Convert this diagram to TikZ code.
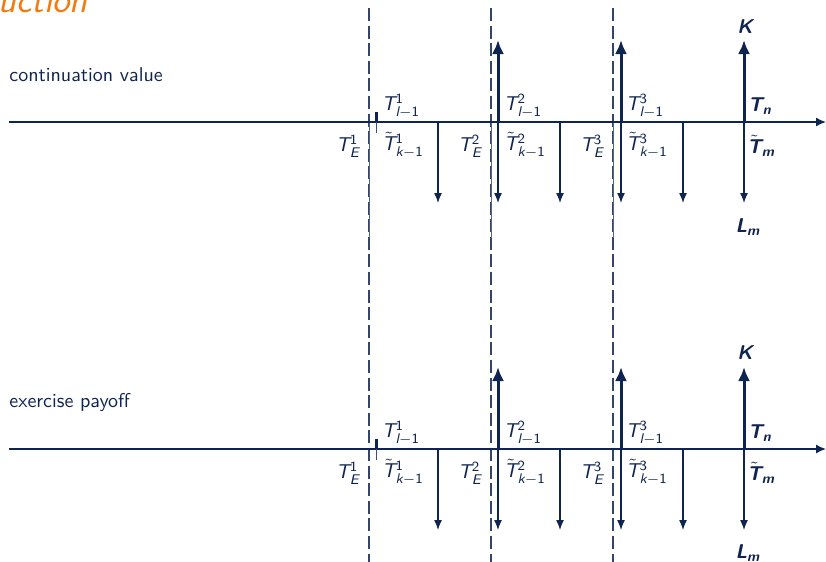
\documentclass[tikz,border=0pt]{standalone}
\usetikzlibrary{arrows.meta}
\DeclareMathAlphabet{\msl}{TU}{lmss}{m}{sl}
\DeclareMathAlphabet{\mbsl}{TU}{lmss}{bx}{sl}
\DeclareMathAlphabet{\msf}{TU}{lmss}{m}{n}
\definecolor{navy}{RGB}{16,36,80}
\definecolor{titleorange}{RGB}{240,125,20}
\begin{document}
\begin{tikzpicture}[x=0.5pt,y=-0.5pt,
  axisarrow/.style={draw=navy, line width=0.75pt, -{Latex[length=5pt,width=4.5pt]}},
  thinarrow/.style={draw=navy, line width=0.65pt, -{Latex[length=5pt,width=4pt]}},
  thickarrow/.style={draw=navy, line width=1.5pt, -{Latex[length=7pt,width=6pt]}},
  tickthick/.style={draw=navy, line width=1.5pt},
  tickthin/.style={draw=navy!80!white, line width=0.5pt},
  dashline/.style={draw=navy!85!white, line width=0.6pt, dash pattern=on 6.5pt off 2.3pt},
  solidline/.style={draw=navy!70!white, line width=0.5pt},
  lbl/.style={inner sep=0pt, text=navy, font=\fontsize{10}{12}\selectfont},
  txt/.style={inner sep=0pt, text=navy, font=\sffamily\fontsize{10}{12}\selectfont, anchor=base west}]
\useasboundingbox (0,0) rectangle (826,562);

\node[anchor=base west, inner sep=0pt, text=titleorange,
      font=\sffamily\slshape\fontsize{18.5}{22}\selectfont] (title) at (-2,12) {uction};

\coordinate (dtop1) at (369,8);
\coordinate (dbot1) at (369,562);
\coordinate (dtop2) at (491,8);
\coordinate (dbot2) at (491,562);
\coordinate (dtop3) at (613,8);
\coordinate (dbot3) at (613,562);
\draw[dashline] (dtop1) -- (dbot1);
\draw[dashline] (dtop2) -- (dbot2);
\draw[dashline] (dtop3) -- (dbot3);
\coordinate (stop1) at (369,122);
\coordinate (sbot1) at (369,238);
\coordinate (stop2) at (491,122);
\coordinate (sbot2) at (491,238);
\coordinate (stop3) at (613,122);
\coordinate (sbot3) at (613,238);
\draw[solidline] (stop1) -- (sbot1);
\draw[solidline] (stop2) -- (sbot2);
\draw[solidline] (stop3) -- (sbot3);

\node[txt] (cvtext) at (9,82) {continuation value};
\node[txt] (eptext) at (9,407) {exercise payoff};

% ---------- upper panel ----------
\coordinate (ca0) at (9,122);
\coordinate (ca1) at (826,122);
\draw[axisarrow] (ca0) -- (ca1);
\coordinate (ct0) at (376,122);
\coordinate (ctu) at (376,112);
\coordinate (ctd) at (376,133);
\draw[tickthick] (ct0) -- (ctu);
\draw[tickthin] (ct0) -- (ctd);
\coordinate (cd1s) at (438,122);
\coordinate (cd1e) at (438,203);
\coordinate (cd2s) at (498,122);
\coordinate (cd2e) at (498,203);
\coordinate (cd3s) at (560,122);
\coordinate (cd3e) at (560,203);
\coordinate (cd4s) at (621,122);
\coordinate (cd4e) at (621,203);
\coordinate (cd5s) at (683,122);
\coordinate (cd5e) at (683,203);
\coordinate (cd6s) at (744,122);
\coordinate (cd6e) at (744,203);
\draw[thinarrow] (cd1s) -- (cd1e);
\draw[thinarrow] (cd2s) -- (cd2e);
\draw[thinarrow] (cd3s) -- (cd3e);
\draw[thinarrow] (cd4s) -- (cd4e);
\draw[thinarrow] (cd5s) -- (cd5e);
\draw[thinarrow] (cd6s) -- (cd6e);
\coordinate (cu1e) at (498,40);
\coordinate (cu2e) at (621,40);
\coordinate (cu3e) at (744,40);
\draw[thickarrow] (cd2s) -- (cu1e);
\draw[thickarrow] (cd4s) -- (cu2e);
\draw[thickarrow] (cd6s) -- (cu3e);
\node[lbl] (cE1) at (348,146) {$\msl{T}^{\msf{1}}_{\msl{E}}$};
\node[lbl] (cE2) at (470,146) {$\msl{T}^{\msf{2}}_{\msl{E}}$};
\node[lbl] (cE3) at (592,146) {$\msl{T}^{\msf{3}}_{\msl{E}}$};
\node[lbl] (cL1) at (401,106) {$\msl{T}^{\msf{1}}_{\msl{l}-\msf{1}}$};
\node[lbl] (cL2) at (523,106) {$\msl{T}^{\msf{2}}_{\msl{l}-\msf{1}}$};
\node[lbl] (cL3) at (645,106) {$\msl{T}^{\msf{3}}_{\msl{l}-\msf{1}}$};
\node[lbl] (cK1) at (403,145) {$\tilde{\msl{T}}^{\msf{1}}_{\msl{k}-\msf{1}}$};
\node[lbl] (cK2) at (525,145) {$\tilde{\msl{T}}^{\msf{2}}_{\msl{k}-\msf{1}}$};
\node[lbl] (cK3) at (647,145) {$\tilde{\msl{T}}^{\msf{3}}_{\msl{k}-\msf{1}}$};
\node[lbl] (cTn) at (760,106) {$\mbsl{T}_{\mbsl{n}}$};
\node[lbl] (cTm) at (761,146) {$\tilde{\mbsl{T}}_{\mbsl{m}}$};
\node[lbl] (cK) at (745,27) {$\mbsl{K}$};
\node[lbl] (cLm) at (748,227) {$\mbsl{L}_{\mbsl{m}}$};

% ---------- lower panel ----------
\coordinate (ea0) at (9,449);
\coordinate (ea1) at (826,449);
\draw[axisarrow] (ea0) -- (ea1);
\coordinate (et0) at (376,449);
\coordinate (etu) at (376,439);
\coordinate (etd) at (376,460);
\draw[tickthick] (et0) -- (etu);
\draw[tickthin] (et0) -- (etd);
\coordinate (ed1s) at (438,449);
\coordinate (ed1e) at (438,530);
\coordinate (ed2s) at (498,449);
\coordinate (ed2e) at (498,530);
\coordinate (ed3s) at (560,449);
\coordinate (ed3e) at (560,530);
\coordinate (ed4s) at (621,449);
\coordinate (ed4e) at (621,530);
\coordinate (ed5s) at (683,449);
\coordinate (ed5e) at (683,530);
\coordinate (ed6s) at (744,449);
\coordinate (ed6e) at (744,530);
\draw[thinarrow] (ed1s) -- (ed1e);
\draw[thinarrow] (ed2s) -- (ed2e);
\draw[thinarrow] (ed3s) -- (ed3e);
\draw[thinarrow] (ed4s) -- (ed4e);
\draw[thinarrow] (ed5s) -- (ed5e);
\draw[thinarrow] (ed6s) -- (ed6e);
\coordinate (eu1e) at (498,367);
\coordinate (eu2e) at (621,367);
\coordinate (eu3e) at (744,367);
\draw[thickarrow] (ed2s) -- (eu1e);
\draw[thickarrow] (ed4s) -- (eu2e);
\draw[thickarrow] (ed6s) -- (eu3e);
\node[lbl] (eE1) at (348,473) {$\msl{T}^{\msf{1}}_{\msl{E}}$};
\node[lbl] (eE2) at (470,473) {$\msl{T}^{\msf{2}}_{\msl{E}}$};
\node[lbl] (eE3) at (592,473) {$\msl{T}^{\msf{3}}_{\msl{E}}$};
\node[lbl] (eL1) at (401,433) {$\msl{T}^{\msf{1}}_{\msl{l}-\msf{1}}$};
\node[lbl] (eL2) at (523,433) {$\msl{T}^{\msf{2}}_{\msl{l}-\msf{1}}$};
\node[lbl] (eL3) at (645,433) {$\msl{T}^{\msf{3}}_{\msl{l}-\msf{1}}$};
\node[lbl] (eK1) at (403,472) {$\tilde{\msl{T}}^{\msf{1}}_{\msl{k}-\msf{1}}$};
\node[lbl] (eK2) at (525,472) {$\tilde{\msl{T}}^{\msf{2}}_{\msl{k}-\msf{1}}$};
\node[lbl] (eK3) at (647,472) {$\tilde{\msl{T}}^{\msf{3}}_{\msl{k}-\msf{1}}$};
\node[lbl] (eTn) at (760,433) {$\mbsl{T}_{\mbsl{n}}$};
\node[lbl] (eTm) at (761,473) {$\tilde{\mbsl{T}}_{\mbsl{m}}$};
\node[lbl] (eK) at (745,353) {$\mbsl{K}$};
\node[lbl] (eLm) at (748,553) {$\mbsl{L}_{\mbsl{m}}$};
\end{tikzpicture}
\end{document}
